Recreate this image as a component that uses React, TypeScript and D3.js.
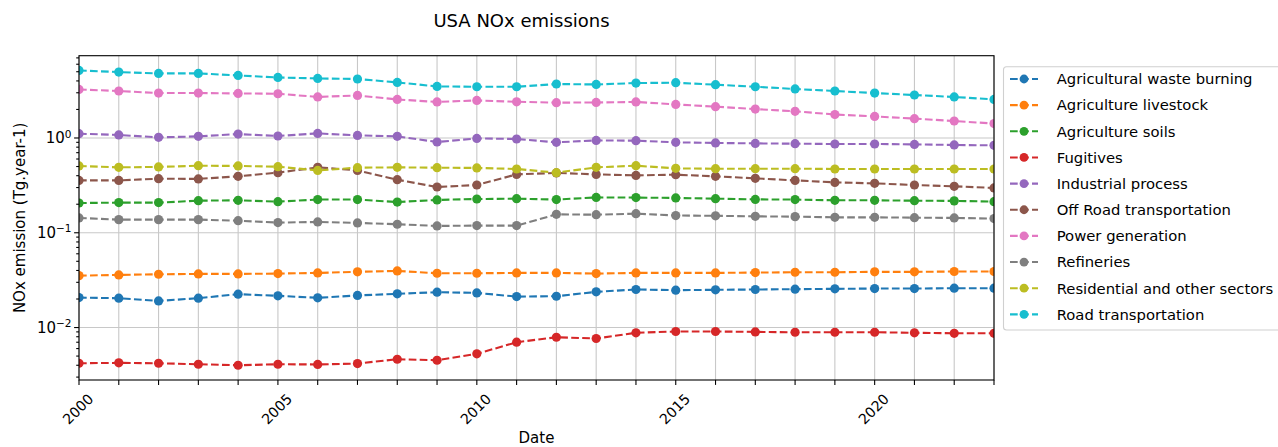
import React, { useEffect, useRef } from 'react'
import * as d3 from 'd3'

const years = [2000, 2001, 2002, 2003, 2004, 2005, 2006, 2007, 2008, 2009, 2010, 2011,
  2012, 2013, 2014, 2015, 2016, 2017, 2018, 2019, 2020, 2021, 2022, 2023]

const sectors = [
  'Agricultural waste burning',
  'Agriculture livestock',
  'Agriculture soils',
  'Fugitives',
  'Industrial process',
  'Off Road transportation',
  'Power generation',
  'Refineries',
  'Residential and other sectors',
  'Road transportation'
]

const colours = ['#1f77b4', '#ff7f0e', '#2ca02c', '#d62728', '#9467bd',
  '#8c564b', '#e377c2', '#7f7f7f', '#bcbd22', '#17becf']

const agriculturalWasteBurning = [0.0207, 0.0204, 0.0191, 0.0204, 0.0225, 0.0216, 0.0206, 0.0218,
  0.0227, 0.0236, 0.0232, 0.0212, 0.0214, 0.0238, 0.0252, 0.0248, 0.0250, 0.0252, 0.0254, 0.0256,
  0.0258, 0.0258, 0.0260, 0.0260]
const agricultureLivestock = [0.0353, 0.0359, 0.0365, 0.0368, 0.0368, 0.0371, 0.0377, 0.0387,
  0.0396, 0.0374, 0.0374, 0.0377, 0.0377, 0.0371, 0.0377, 0.0377, 0.0377, 0.0380, 0.0383, 0.0383,
  0.0387, 0.0387, 0.0390, 0.0390]
const agricultureSoils = [0.206, 0.208, 0.208, 0.218, 0.220, 0.213, 0.224, 0.224, 0.211, 0.222,
  0.227, 0.229, 0.224, 0.236, 0.235, 0.233, 0.229, 0.225, 0.224, 0.220, 0.220, 0.218, 0.217, 0.213]
const fugitives = [0.00420, 0.00424, 0.00420, 0.00410, 0.00400, 0.00410, 0.00408, 0.00417, 0.00463,
  0.00452, 0.00528, 0.00700, 0.00790, 0.00766, 0.00880, 0.00908, 0.00908, 0.00900, 0.00892,
  0.00892, 0.00892, 0.00880, 0.00870, 0.00870]
const industrialProcess = [1.11, 1.076, 1.015, 1.04, 1.10, 1.05, 1.118, 1.065, 1.04, 0.907, 0.99,
  0.976, 0.90, 0.943, 0.937, 0.90, 0.886, 0.877, 0.871, 0.864, 0.864, 0.856, 0.844, 0.836]
const offRoadTransportation = [0.357, 0.357, 0.372, 0.370, 0.394, 0.431, 0.490, 0.455, 0.363, 0.304,
  0.319, 0.413, 0.428, 0.413, 0.403, 0.410, 0.394, 0.375, 0.357, 0.340, 0.332, 0.319, 0.309, 0.297]
const powerGeneration = [3.25, 3.13, 2.98, 2.98, 2.95, 2.93, 2.71, 2.81, 2.55, 2.40, 2.49, 2.41,
  2.36, 2.37, 2.40, 2.26, 2.14, 2.02, 1.91, 1.77, 1.69, 1.60, 1.51, 1.42]
const refineries = [0.1434, 0.1376, 0.1376, 0.1376, 0.134, 0.128, 0.130, 0.127, 0.123, 0.118, 0.119,
  0.119, 0.1565, 0.155, 0.159, 0.152, 0.151, 0.149, 0.148, 0.1455, 0.1455, 0.1444, 0.1434, 0.141]
const residentialAndOther = [0.507, 0.490, 0.495, 0.510, 0.507, 0.498, 0.455, 0.486, 0.490, 0.486,
  0.483, 0.471, 0.431, 0.490, 0.510, 0.478, 0.474, 0.474, 0.474, 0.471, 0.471, 0.471, 0.471, 0.471]
const roadTransportation = [5.16, 4.96, 4.80, 4.80, 4.57, 4.35, 4.25, 4.19, 3.86, 3.50, 3.47, 3.47,
  3.71, 3.67, 3.80, 3.83, 3.65, 3.47, 3.29, 3.13, 2.98, 2.84, 2.71, 2.55]

const seriesValues = [agriculturalWasteBurning, agricultureLivestock, agricultureSoils, fugitives,
  industrialProcess, offRoadTransportation, powerGeneration, refineries, residentialAndOther,
  roadTransportation]

const xTickLabels = [2000, 2005, 2010, 2015, 2020]
const yTickValues = [1, 0.1, 0.01]
const yTickExponents = ['0', '\u22121', '\u22122']

const FONT = 'DejaVu Sans, sans-serif'

export default function App () {
  const ref = useRef<SVGSVGElement>(null)

  useEffect(() => {
    const svg = d3.select(ref.current)
    svg.selectAll('*').remove()

    const plot = {left: 79, right: 994, top: 55.7, bottom: 380}

    // matplotlib-like 5% margin in log space
    const allLogs = seriesValues.flat().map(v => Math.log10(v))
    const lo = d3.min(allLogs) as number
    const hi = d3.max(allLogs) as number
    const pad = (hi - lo) * 0.05

    const x = d3.scaleLinear().domain([years[0], years[years.length - 1]]).range([plot.left, plot.right])
    const y = d3.scaleLog().domain([Math.pow(10, lo - pad), Math.pow(10, hi + pad)]).range([plot.bottom, plot.top])

    svg.append('defs').append('clipPath').attr('id', 'plotclip')
      .append('rect')
      .attr('x', plot.left).attr('y', plot.top)
      .attr('width', plot.right - plot.left).attr('height', plot.bottom - plot.top)

    // grid
    const grid = svg.append('g').attr('stroke', '#c8c8c8').attr('stroke-width', 1.1)
    years.forEach(yr => {
      grid.append('line').attr('x1', x(yr)).attr('x2', x(yr)).attr('y1', plot.top).attr('y2', plot.bottom)
    })
    yTickValues.forEach(v => {
      grid.append('line').attr('x1', plot.left).attr('x2', plot.right).attr('y1', y(v)).attr('y2', y(v))
    })

    // series
    const lines = svg.append('g').attr('clip-path', 'url(#plotclip)')
    const line = d3.line<number>().x((d, i) => x(years[i])).y(d => y(d))
    seriesValues.forEach((vals, s) => {
      const g = lines.append('g')
      g.append('path')
        .attr('d', line(vals))
        .attr('fill', 'none')
        .attr('stroke', colours[s])
        .attr('stroke-width', 2.1)
        .attr('stroke-dasharray', '7.7,3.3')
      g.selectAll('circle').data(vals).enter().append('circle')
        .attr('cx', (d, i) => x(years[i]))
        .attr('cy', d => y(d))
        .attr('r', 4.6)
        .attr('fill', colours[s])
    })

    // frame
    svg.append('rect')
      .attr('x', plot.left).attr('y', plot.top)
      .attr('width', plot.right - plot.left).attr('height', plot.bottom - plot.top)
      .attr('fill', 'none').attr('stroke', '#000').attr('stroke-width', 1.1)

    const ticks = svg.append('g').attr('stroke', '#000').attr('stroke-width', 1.1)
    years.forEach(yr => {
      ticks.append('line').attr('x1', x(yr)).attr('x2', x(yr)).attr('y1', plot.bottom).attr('y2', plot.bottom + 4.9)
    })
    const [d0, d1] = y.domain()
    for (let e = Math.floor(Math.log10(d0)); e <= Math.ceil(Math.log10(d1)); e++) {
      for (let m = 1; m < 10; m++) {
        const v = m * Math.pow(10, e)
        if (v < d0 || v > d1) continue
        const len = m === 1 ? 4.9 : 2.8
        ticks.append('line').attr('x1', plot.left - len).attr('x2', plot.left).attr('y1', y(v)).attr('y2', y(v))
      }
    }

    // tick labels
    xTickLabels.forEach(yr => {
      svg.append('text')
        .attr('transform', `translate(${x(yr) - 1}, 409) rotate(-45)`)
        .attr('text-anchor', 'middle')
        .attr('dominant-baseline', 'central')
        .attr('font-family', FONT).attr('font-size', 14.2).attr('fill', '#000')
        .text(String(yr))
    })
    yTickValues.forEach((v, i) => {
      const t = svg.append('text')
        .attr('x', 71.5).attr('y', y(v) + 5.2)
        .attr('text-anchor', 'end')
        .attr('font-family', FONT).attr('font-size', 15).attr('fill', '#000')
      t.append('tspan').text('10')
      t.append('tspan').attr('dy', -5.5).attr('font-size', 10.5).text(yTickExponents[i])
    })

    // axis labels and title
    svg.append('text')
      .attr('x', 521.5).attr('y', 26.7)
      .attr('text-anchor', 'middle')
      .attr('font-family', FONT).attr('font-size', 18).attr('fill', '#000')
      .text('USA NOx emissions')
    svg.append('text')
      .attr('x', (plot.left + plot.right) / 2).attr('y', 443)
      .attr('text-anchor', 'middle')
      .attr('font-family', FONT).attr('font-size', 15).attr('fill', '#000')
      .text('Date')
    svg.append('text')
      .attr('transform', `translate(24.5, ${(plot.top + plot.bottom) / 2}) rotate(-90)`)
      .attr('text-anchor', 'middle')
      .attr('font-family', FONT).attr('font-size', 15).attr('fill', '#000')
      .text('NOx emission (Tg.year-1)')

    // legend
    const leg = svg.append('g')
    leg.append('rect')
      .attr('x', 1003.5).attr('y', 66.7).attr('width', 290).attr('height', 263.3)
      .attr('rx', 3).attr('fill', '#fff').attr('fill-opacity', 0.8)
      .attr('stroke', '#d0d0d0').attr('stroke-width', 1.1)
    sectors.forEach((name, i) => {
      const cy = 79 + i * 26.15
      leg.append('line')
        .attr('x1', 1010).attr('x2', 1038).attr('y1', cy).attr('y2', cy)
        .attr('stroke', colours[i]).attr('stroke-width', 2.1).attr('stroke-dasharray', '7.7,3.3')
      leg.append('circle').attr('cx', 1024).attr('cy', cy).attr('r', 4.4).attr('fill', colours[i])
      leg.append('text')
        .attr('x', 1056.7).attr('y', cy + 5.3)
        .attr('font-family', FONT).attr('font-size', 14.8).attr('fill', '#000')
        .text(name)
    })
  }, [])

  return (
    <svg ref={ref} width={1278} height={447}
      style={{position: 'absolute', left: 0, top: 0, background: '#fff'}} />
  )
}
